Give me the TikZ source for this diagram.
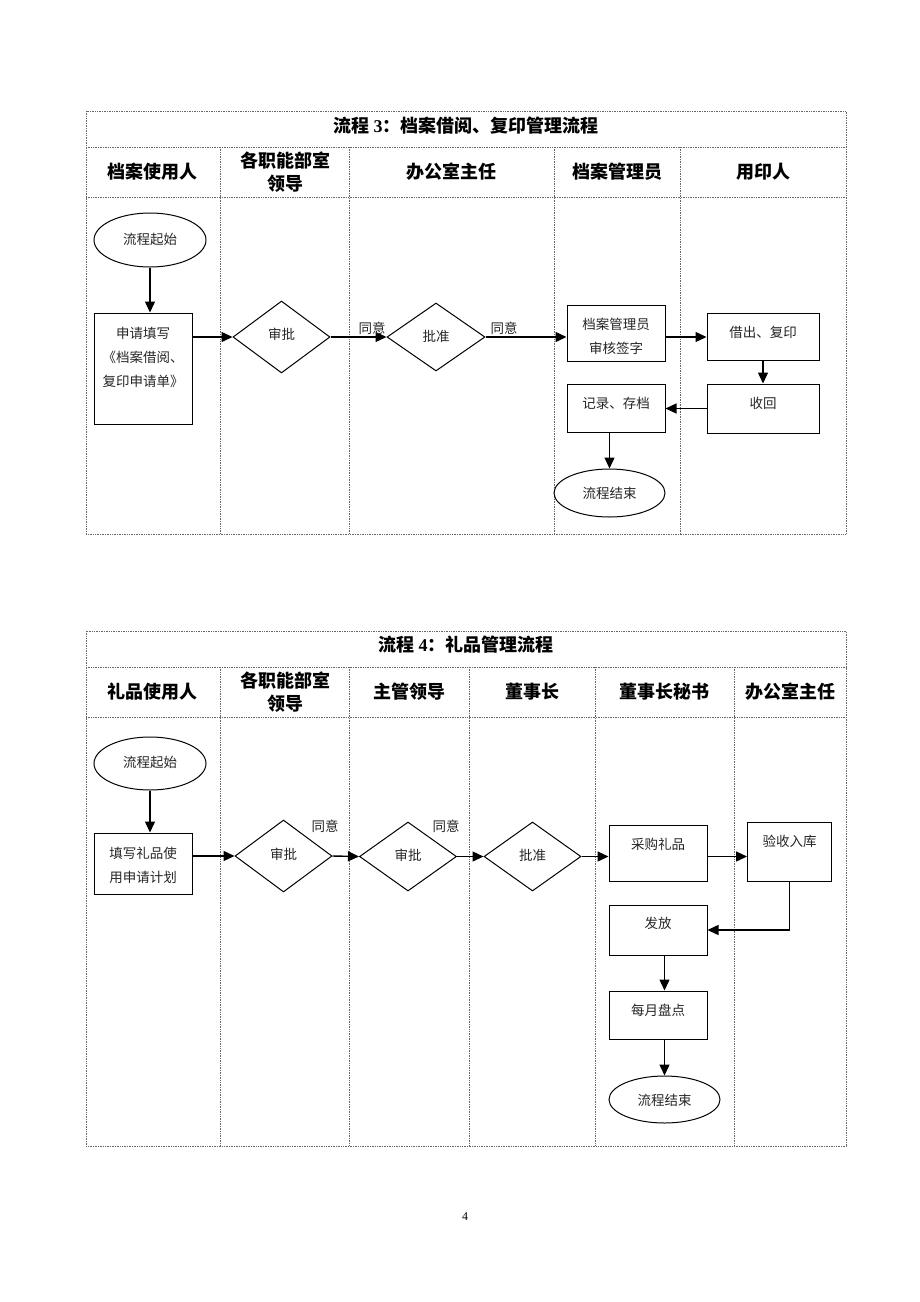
\documentclass[tikz,border=0pt]{standalone}
\usepackage{fontspec}
\setmainfont{Liberation Serif}
\newfontfamily\cjk{Noto Sans CJK SC}
\usetikzlibrary{shapes.geometric,arrows.meta}
\begin{document}
\begin{tikzpicture}[x=1pt,y=-1pt,
 grid/.style={draw=black!60, densely dotted, line width=0.7pt},
 box/.style={draw, line width=1pt, rectangle, inner sep=0pt},
 oval/.style={draw, line width=1pt, ellipse, inner sep=0pt},
 dia/.style={draw, line width=1pt, diamond, inner sep=0pt},
 txt/.style={font=\cjk\fontsize{13.5}{24}\selectfont, align=center, inner sep=0pt, text=black!85},
 head/.style={font=\cjk\bfseries\fontsize{18}{23}\selectfont, align=center, inner sep=0pt},
 arr/.style={line width=1.4pt, -{Triangle[length=11pt,width=10pt]}},
 lab/.style={font=\cjk\fontsize{13.5}{15}\selectfont, inner sep=0pt, text=black!85}
]
\useasboundingbox[fill=white] (0,0) rectangle (920,1302);

% ===== Table 1 grid =====
\draw[grid] (86,111) rectangle (846,534);
\draw[grid] (86,147) -- (846,147);
\draw[grid] (86,197) -- (846,197);
\foreach \x in {220,349,554,680} \draw[grid] (\x,147) -- (\x,534);

\node[head] (t1) at (466,126) {流程 {\rmfamily\bfseries 3}：档案借阅、复印管理流程};
\node[head] (h11) at (152,172) {档案使用人};
\node[head] (h12) at (285,172) {各职能部室\\领导};
\node[head] (h13) at (451,172) {办公室主任};
\node[head] (h14) at (617,172) {档案管理员};
\node[head] (h15) at (763,172) {用印人};

% ===== Table 1 nodes =====
\node[oval, minimum width=112pt, minimum height=54pt] (s1) at (150,240) {};
\node[txt] at (150,239) {流程起始};
\node[box, minimum width=98pt, minimum height=111pt] (b1) at (143,368.5) {};
\node[txt] at (143,357) {申请填写\\《档案借阅、\\复印申请单》};
\node[dia, minimum width=97pt, minimum height=72pt] (d1) at (281.5,337) {};
\node[txt] at (281.5,334) {审批};
\node[dia, minimum width=98pt, minimum height=68pt] (d2) at (436,337) {};
\node[txt] at (436,336) {批准};
\node[box, minimum width=98pt, minimum height=56pt] (b2) at (616,333) {};
\node[txt] at (616,336) {档案管理员\\审核签字};
\node[box, minimum width=112pt, minimum height=47pt] (b3) at (763,336.5) {};
\node[txt] at (763,332) {借出、复印};
\node[box, minimum width=112pt, minimum height=49pt] (b4) at (763,408.5) {};
\node[txt] at (763,403) {收回};
\node[box, minimum width=98pt, minimum height=48pt] (b5) at (616,408) {};
\node[txt] at (616,403) {记录、存档};
\node[oval, minimum width=111pt, minimum height=48pt] (e1) at (609.5,493) {};
\node[txt] at (609.5,493) {流程结束};

\draw[arr] (s1.south) -- (s1.south |- b1.north);
\draw[arr] (b1.east |- d1.west) -- (d1.west);
\draw[arr] (d1.east) -- (d2.west);
\node[lab] at (372,328) {同意};
\draw[arr] (d2.east) -- (b2.west |- d2.east);
\node[lab] at (504,328) {同意};
\draw[arr] (b2.east |- d2.east) -- (b3.west |- d2.east);
\draw[arr] (b3) -- (b4);
\draw[arr] (b4.west) -- (b5.east |- b4.west);
\draw[arr] (b5.south -| e1.north) -- (e1.north);

% ===== Table 2 grid =====
\draw[grid] (86,631) rectangle (846,1146);
\draw[grid] (86,667) -- (846,667);
\draw[grid] (86,717) -- (846,717);
\foreach \x in {220,349,469,595,734} \draw[grid] (\x,667) -- (\x,1146);

\node[head] (t2) at (466,645) {流程 {\rmfamily\bfseries 4}：礼品管理流程};
\node[head] (h21) at (152,692) {礼品使用人};
\node[head] (h22) at (285,692) {各职能部室\\领导};
\node[head] (h23) at (409,692) {主管领导};
\node[head] (h24) at (532,692) {董事长};
\node[head] (h25) at (664,692) {董事长秘书};
\node[head] (h26) at (790,692) {办公室主任};

% ===== Table 2 nodes =====
\node[oval, minimum width=112pt, minimum height=53pt] (s2) at (150,763.5) {};
\node[txt] at (150,762) {流程起始};
\node[box, minimum width=98pt, minimum height=61pt] (g1) at (143,863.5) {};
\node[txt] at (143,865) {填写礼品使\\用申请计划};
\node[dia, minimum width=97pt, minimum height=72pt] (g2) at (283.5,856) {};
\node[txt] at (283.5,854) {审批};
\node[dia, minimum width=97pt, minimum height=69pt] (g3) at (408,856.5) {};
\node[txt] at (408,855) {审批};
\node[dia, minimum width=97pt, minimum height=69pt] (g4) at (532.5,856.5) {};
\node[txt] at (532.5,855) {批准};
\node[box, minimum width=98pt, minimum height=56pt] (g5) at (658,853) {};
\node[txt] at (658,844) {采购礼品};
\node[box, minimum width=84pt, minimum height=59pt] (g6) at (789.5,851.5) {};
\node[txt] at (789.5,841) {验收入库};
\node[box, minimum width=98pt, minimum height=50pt] (g7) at (658,930) {};
\node[txt] at (658,923) {发放};
\node[box, minimum width=98pt, minimum height=48pt] (g8) at (658,1015) {};
\node[txt] at (658,1010) {每月盘点};
\node[oval, minimum width=111pt, minimum height=47pt] (e2) at (664.5,1099.5) {};
\node[txt] at (664.5,1100) {流程结束};

\draw[arr] (s2.south) -- (s2.south |- g1.north);
\draw[arr] (g1.east |- g2.west) -- (g2.west);
\draw[arr] (g2.east) -- (g3.west);
\node[lab] at (325,826) {同意};
\draw[arr] (g3.east) -- (g4.west);
\node[lab] at (446,826) {同意};
\draw[arr] (g4.east) -- (g5.west |- g4.east);
\draw[arr] (g5.east |- g4.east) -- (g6.west |- g4.east);
\draw[arr] (g6.south) |- (g7.east);
\draw[arr] (g7.south -| e2.north) -- (g8.north -| e2.north);
\draw[arr] (g8.south -| e2.north) -- (e2.north);

% page number
\node[font=\fontsize{12}{14}\selectfont, inner sep=0pt] (pg) at (465,1217) {4};
\end{tikzpicture}
\end{document}
